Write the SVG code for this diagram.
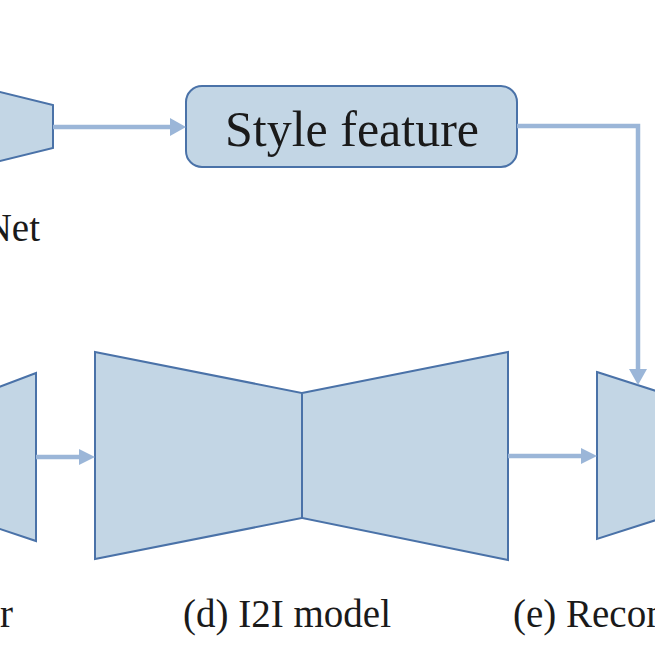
<svg xmlns="http://www.w3.org/2000/svg" width="655" height="655" viewBox="0 0 655 655">
<style>
.sh{fill:#c3d6e5;stroke:#4a72a8;stroke-width:2;stroke-linejoin:miter}
.ln{fill:none;stroke:#9bb6d8;stroke-width:4.5}
.ah{fill:#9bb6d8}
.t{font-family:"Liberation Serif","Times New Roman",serif;fill:#1a1a1a}
</style>
<rect width="655" height="655" fill="#ffffff"/>
<g id="stylenet">
<polygon class="sh" points="-20,87 53,105 53,148 -20,166"/>
<text class="t" x="40" y="241" font-size="39" text-anchor="end">Net</text>
</g>
<g id="style-feature">
<rect class="sh" x="186" y="86" width="331" height="81" rx="16"/>
<text class="t" x="352" y="146" font-size="50" text-anchor="middle">Style feature</text>
</g>
<g id="encoder">
<polygon class="sh" points="-30,398 36,373 36,541 -30,519"/>
<text class="t" x="0" y="627" font-size="39">r</text>
</g>
<g id="i2i-model">
<polygon class="sh" points="95,352 302,393 302,518 95,559"/>
<polygon class="sh" points="302,393 508,352 508,560 302,518"/>
<text class="t" x="287" y="627" font-size="39" text-anchor="middle">(d) I2I model</text>
</g>
<g id="reconstruction">
<polygon class="sh" points="597,372 700,405 700,506 597,539"/>
<text class="t" x="513" y="627" font-size="39">(e) Recon</text>
</g>
<g id="connectors">
<line class="ln" x1="53" y1="127" x2="172" y2="127"/>
<polygon class="ah" points="186,127 170,118 170,136"/>
<polyline class="ln" points="517,126 638,126 638,370"/>
<polygon class="ah" points="638,385 629,369 647,369"/>
<line class="ln" x1="36" y1="457" x2="80" y2="457"/>
<polygon class="ah" points="95,457 79,449 79,465"/>
<line class="ln" x1="508" y1="456" x2="582" y2="456"/>
<polygon class="ah" points="597,456 581,448 581,464"/>
</g>
</svg>
